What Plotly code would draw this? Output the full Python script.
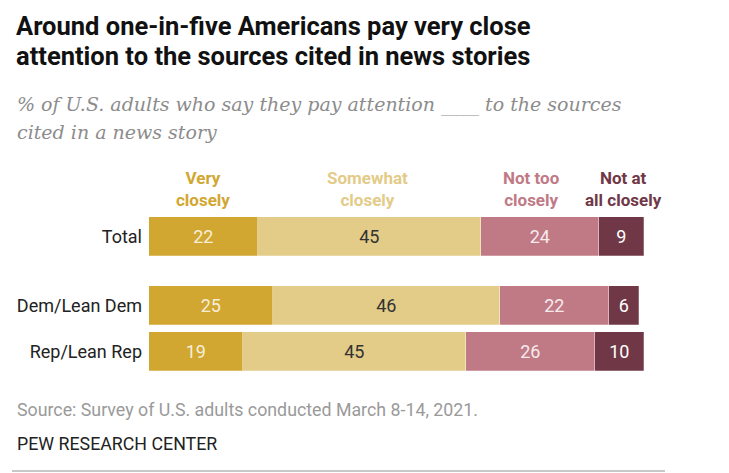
import plotly.graph_objects as go

# ---------------- data ----------------
groups = ["Total", "Dem/Lean Dem", "Rep/Lean Rep"]
series_names = ["Very closely", "Somewhat closely", "Not too closely", "Not at all closely"]
legend_labels = ["Very<br>closely", "Somewhat<br>closely", "Not too<br>closely", "Not at<br>all closely"]
very_closely = [22, 25, 19]
somewhat_closely = [45, 46, 45]
not_too_closely = [24, 22, 26]
not_at_all_closely = [9, 6, 10]

title_lines = ["Around one-in-five Americans pay very close",
               "attention to the sources cited in news stories"]
subtitle_lines = ["% of U.S. adults who say they pay attention ____ to the sources",
                  "cited in a news story"]
source_text = "Source: Survey of U.S. adults conducted March 8-14, 2021."
org_text = "PEW RESEARCH CENTER"

# ---------------- style ----------------
W, H = 729, 473
bar_colors = ["#D1A731", "#E3CB88", "#C07A86", "#703846"]
text_colors = ["#F6EED8", "#333333", "#F7EAEC", "#FFFFFF"]
label_xshift = [0, -2, -9, 2]
FONT = "Roboto, Liberation Sans, Arial, sans-serif"

series_values = [very_closely, somewhat_closely, not_too_closely, not_at_all_closely]

# row positions (Total separated by a larger gap)
row_pos = [0, 1.5, 2.5]

# pixel geometry helpers
x0_px, x100_px = 149, 644
unit_px = 46.0
center_px_total = 236.5
y_top_px, y_bot_px = 160, 395
ytop_val = 0 - (center_px_total - y_top_px) / unit_px
ybot_val = ytop_val + (y_bot_px - y_top_px) / unit_px


def py(px):
    return 1 - px / H


def px_x(px):
    return px / W


fig = go.Figure()
for name, vals, col, tcol in zip(series_names, series_values, bar_colors, text_colors):
    fig.add_trace(go.Bar(
        y=row_pos, x=vals, orientation="h", name=name,
        marker=dict(color=col, line=dict(color="rgba(255,255,255,0.5)", width=0.5)),
        width=0.86,
        text=[str(v) for v in vals], textposition="inside",
        insidetextanchor="middle", textangle=0,
        textfont=dict(family=FONT, size=18, color=tcol),
        hoverinfo="skip",
    ))

annotations = []
# legend labels above the Total bar
cum = 0
for i, (lab, vals) in enumerate(zip(legend_labels, series_values)):
    center = cum + vals[0] / 2
    cum += vals[0]
    annotations.append(dict(
        x=center, xref="x", y=py(189), yref="paper", text="<b>" + lab + "</b>",
        showarrow=False, xanchor="center", yanchor="middle", xshift=label_xshift[i],
        font=dict(family=FONT, size=17, color=bar_colors[i]), align="center",
    ))

# title lines
for txt, yc in zip(title_lines, [26, 56]):
    annotations.append(dict(
        x=px_x(15), xref="paper", y=py(yc), yref="paper", text="<b>" + txt + "</b>",
        showarrow=False, xanchor="left", yanchor="middle", borderpad=0,
        font=dict(family=FONT, size=25.5, color="#111111"),
    ))
# subtitle lines
for txt, yc in zip(subtitle_lines, [104, 132]):
    annotations.append(dict(
        x=px_x(15), xref="paper", y=py(yc), yref="paper", text="<i>" + txt + "</i>",
        showarrow=False, xanchor="left", yanchor="middle",
        font=dict(family="DejaVu Serif, serif", size=19, color="#8C8C8C"),
    ))
annotations.append(dict(
    x=px_x(15), xref="paper", y=py(409), yref="paper", text=source_text,
    showarrow=False, xanchor="left", yanchor="middle",
    font=dict(family=FONT, size=17.8, color="#9A9A9A"),
))
annotations.append(dict(
    x=px_x(15), xref="paper", y=py(443), yref="paper", text=org_text,
    showarrow=False, xanchor="left", yanchor="middle",
    font=dict(family=FONT, size=17.8, color="#222222"),
))

fig.update_layout(
    width=W, height=H, margin=dict(l=0, r=0, t=0, b=0),
    paper_bgcolor="white", plot_bgcolor="white",
    barmode="stack", bargap=0, showlegend=False,
    xaxis=dict(domain=[px_x(x0_px), px_x(x100_px)], range=[0, 100],
               visible=False, fixedrange=True),
    yaxis=dict(domain=[py(y_bot_px), py(y_top_px)], range=[ybot_val, ytop_val],
               tickvals=row_pos, ticktext=groups, ticks="", showgrid=False,
               zeroline=False, showline=False, ticklabelstandoff=6,
               tickfont=dict(family=FONT, size=18, color="#222222"), fixedrange=True),
    annotations=annotations,
    shapes=[dict(type="line", xref="paper", yref="paper",
                 x0=px_x(12), x1=px_x(665), y0=py(471), y1=py(471),
                 line=dict(color="#C8C8C8", width=2))],
    uniformtext=dict(mode=False),
)

fig.write_html("out.html")
